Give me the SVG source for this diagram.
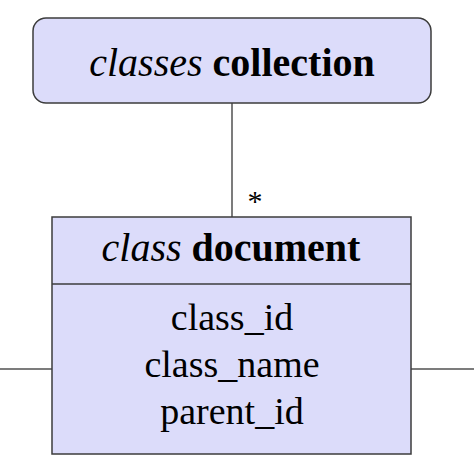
<svg xmlns="http://www.w3.org/2000/svg" width="474" height="474" viewBox="0 0 474 474">
<style>
.box{fill:#dcdcfa;stroke:#3c3c3c;stroke-width:1.5}
.ln{stroke:#505050;stroke-width:1.5;fill:none}
text{font-family:"Liberation Serif","Times New Roman",serif;fill:#000;text-anchor:middle}
.t{font-size:40px}
.a{font-size:38px}
</style>
<rect width="474" height="474" fill="#fff"/>
<g id="connectors">
<line class="ln" x1="232" y1="103" x2="232" y2="217"/>
<line class="ln" x1="0" y1="369" x2="52" y2="369"/>
<line class="ln" x1="411" y1="369" x2="474" y2="369"/>
<text x="255" y="211" style="font-size:30px">*</text>
</g>
<g id="classes-collection">
<rect class="box" x="33" y="18" width="398" height="85" rx="13"/>
<text class="t" x="232" y="76"><tspan font-style="italic">classes</tspan> <tspan font-weight="bold">collection</tspan></text>
</g>
<g id="class-document">
<rect class="box" x="52" y="217" width="359" height="237"/>
<line class="box" x1="52" y1="284" x2="411" y2="284"/>
<text class="t" x="231" y="261"><tspan font-style="italic">class</tspan> <tspan font-weight="bold">document</tspan></text>
<text class="a" x="232" y="330">class_id</text>
<text class="a" x="232" y="377">class_name</text>
<text class="a" x="232" y="424">parent_id</text>
</g>
</svg>
